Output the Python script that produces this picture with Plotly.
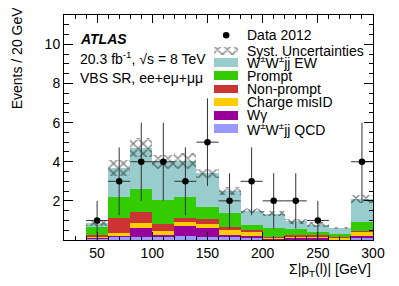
import plotly.graph_objects as go
import numpy as np

# ---- data ----
bin_centers = [50, 70, 90, 110, 130, 150, 170, 190, 210, 230, 250, 270, 290]
bin_width = 20
qcd       = [0.07, 0.17, 0.17, 0.20, 0.20, 0.17, 0.14, 0.14, 0.04, 0.05, 0.04, 0.03, 0.14]
wgamma    = [0.04, 0.03, 0.46, 0.05, 0.51, 0.46, 0.11, 0.06, 0.02, 0.06, 0.10, 0.02, 0.08]
misid     = [0.06, 0.17, 0.24, 0.21, 0.22, 0.18, 0.25, 0.22, 0.08, 0.05, 0.06, 0.08, 0.20]
nonprompt = [0.10, 0.73, 0.57, 0.34, 0.17, 0.24, 0.14, 0.08, 0.02, 0.10, 0.04, 0.02, 0.05]
prompt    = [0.37, 1.10, 1.19, 1.24, 1.10, 0.65, 0.72, 0.26, 0.46, 0.28, 0.18, 0.15, 0.46]
ew        = [0.23, 1.48, 2.09, 1.96, 1.85, 1.70, 1.14, 0.74, 0.73, 0.41, 0.36, 0.30, 1.17]
syst      = [0.17, 0.42, 0.50, 0.35, 0.40, 0.25, 0.20, 0.14, 0.13, 0.14, 0.14, 0.06, 0.20]
data      = [1, 3, 4, 4, 3, 5, 2, 3, 2, 2, 1, 0, 4]

x_ticks = [50, 100, 150, 200, 250, 300]
y_ticks = [2, 4, 6, 8, 10]

components = [
    ("W<sup>±</sup>W<sup>±</sup>jj QCD", qcd, "#9999FF"),
    ("Wγ", wgamma, "#990099"),
    ("Charge misID", misid, "#FFCC00"),
    ("Non-prompt", nonprompt, "#CC3333"),
    ("Prompt", prompt, "#33CC00"),
    ("W<sup>±</sup>W<sup>±</sup>jj EW", ew, "#99CCCC"),
]

FONT = "Liberation Sans, Arial, Helvetica, sans-serif"
FS = 14
HATCH = dict(shape="x", fgcolor="#000000", bgcolor="rgba(0,0,0,0)", size=7, solidity=0.35)
fig = go.Figure()

for name, vals, col in components:
    fig.add_trace(go.Bar(x=bin_centers, y=vals, width=bin_width, name=name,
                         marker=dict(color=col, line=dict(width=0)), showlegend=False))

total = np.sum([c[1] for c in components], axis=0)
fig.add_trace(go.Bar(x=bin_centers, y=2 * np.array(syst), base=total - np.array(syst),
                     width=bin_width, showlegend=False,
                     marker=dict(color="rgba(0,0,0,0)", line=dict(width=0), pattern=HATCH)))

dv = [d if d > 0 else None for d in data]
fig.add_trace(go.Scatter(x=bin_centers, y=dv, mode="markers", showlegend=False,
                         marker=dict(color="black", size=6.5),
                         error_y=dict(type="data", array=[np.sqrt(d) for d in data], color="#333333",
                                      thickness=1, width=0),
                         error_x=dict(type="constant", value=bin_width / 2, color="#333333",
                                      thickness=1, width=0)))

# ---- legend drawn on a pixel-coordinate overlay axis (screen pixels) ----
leg_x0, leg_x1, leg_h = 217, 241, 8.6
leg_text_x = 248
leg_items = [
    ("Syst. Uncertainties", None, 50.3),
    ("W<sup>±</sup>W<sup>±</sup>jj EW", "#99CCCC", 61.7),
    ("Prompt", "#33CC00", 75.0),
    ("Non-prompt", "#CC3333", 88.3),
    ("Charge misID", "#FFCC00", 101.5),
    ("Wγ", "#990099", 114.8),
    ("W<sup>±</sup>W<sup>±</sup>jj QCD", "#9999FF", 128.0),
]
for label, col, yc in leg_items:
    if col is None:
        mk = dict(color="rgba(0,0,0,0)", line=dict(width=0), pattern=HATCH)
    else:
        mk = dict(color=col, line=dict(width=0))
    fig.add_trace(go.Bar(x=[(leg_x0 + leg_x1) / 2], y=[leg_h], base=[yc - leg_h / 2], width=leg_x1 - leg_x0,
                         marker=mk, xaxis="x2", yaxis="y2", showlegend=False, hoverinfo="skip"))
    fig.add_annotation(x=leg_text_x, y=yc, xref="x2", yref="y2", text=label, showarrow=False,
                       xanchor="left", yanchor="middle", font=dict(family=FONT, size=FS, color="black"))
fig.add_trace(go.Scatter(x=[229.3], y=[34.3], mode="markers", marker=dict(color="black", size=6.5),
                         xaxis="x2", yaxis="y2", showlegend=False, hoverinfo="skip"))
fig.add_annotation(x=leg_text_x, y=34.3, xref="x2", yref="y2", text="Data 2012", showarrow=False,
                   xanchor="left", yanchor="middle", font=dict(family=FONT, size=FS, color="black"))

# ATLAS labels
fig.add_annotation(x=78, y=37.7, xref="x2", yref="y2", text="<b><i>ATLAS</i></b>", showarrow=False,
                   xanchor="left", yanchor="middle", font=dict(family=FONT, size=FS, color="black"))
fig.add_annotation(x=78, y=57.5, xref="x2", yref="y2", text="20.3 fb<sup>-1</sup>, √s = 8 TeV", showarrow=False,
                   xanchor="left", yanchor="middle", font=dict(family=FONT, size=FS, color="black"))
fig.add_annotation(x=78, y=77.3, xref="x2", yref="y2", text="VBS SR, ee+eμ+μμ", showarrow=False,
                   xanchor="left", yanchor="middle", font=dict(family=FONT, size=FS, color="black"))

# axis titles
fig.add_annotation(x=1.0, y=-0.133, xref="paper", yref="paper", text="Σ|p<sub>T</sub>(l)| [GeV]",
                   showarrow=False, xanchor="right", yanchor="middle",
                   font=dict(family=FONT, size=FS, color="black"))
fig.add_annotation(x=-0.152, y=0.8075, xref="paper", yref="paper", text="Events / 20 GeV", textangle=-90,
                   showarrow=False, xanchor="center", yanchor="middle",
                   font=dict(family=FONT, size=FS, color="black"))

axis_common = dict(showline=True, linecolor="black", linewidth=1, mirror="allticks", ticks="inside",
                   tickcolor="black", showgrid=False, zeroline=False,
                   tickfont=dict(family=FONT, size=FS, color="black"))
# page body has an 8px margin: the figure is sized/offset so the plot area lands at
# screen x 64..379, y 14..240
fig.update_layout(
    width=383, height=270, margin=dict(l=56, r=12, t=6, b=38),
    paper_bgcolor="white", plot_bgcolor="white",
    barmode="stack", bargap=0, showlegend=False,
    xaxis=dict(range=[20, 300], tickvals=x_ticks, ticklen=8,
               minor=dict(dtick=10, ticks="inside", ticklen=4, tickcolor="black"), **axis_common),
    yaxis=dict(range=[0, 11.5], tickvals=y_ticks, ticklen=9,
               minor=dict(dtick=0.5, ticks="inside", ticklen=4.5, tickcolor="black"), **axis_common),
    xaxis2=dict(overlaying="x", range=[64, 379], visible=False, fixedrange=True),
    yaxis2=dict(overlaying="y", range=[240, 14], visible=False, fixedrange=True),
)

fig.write_html("out.html")
